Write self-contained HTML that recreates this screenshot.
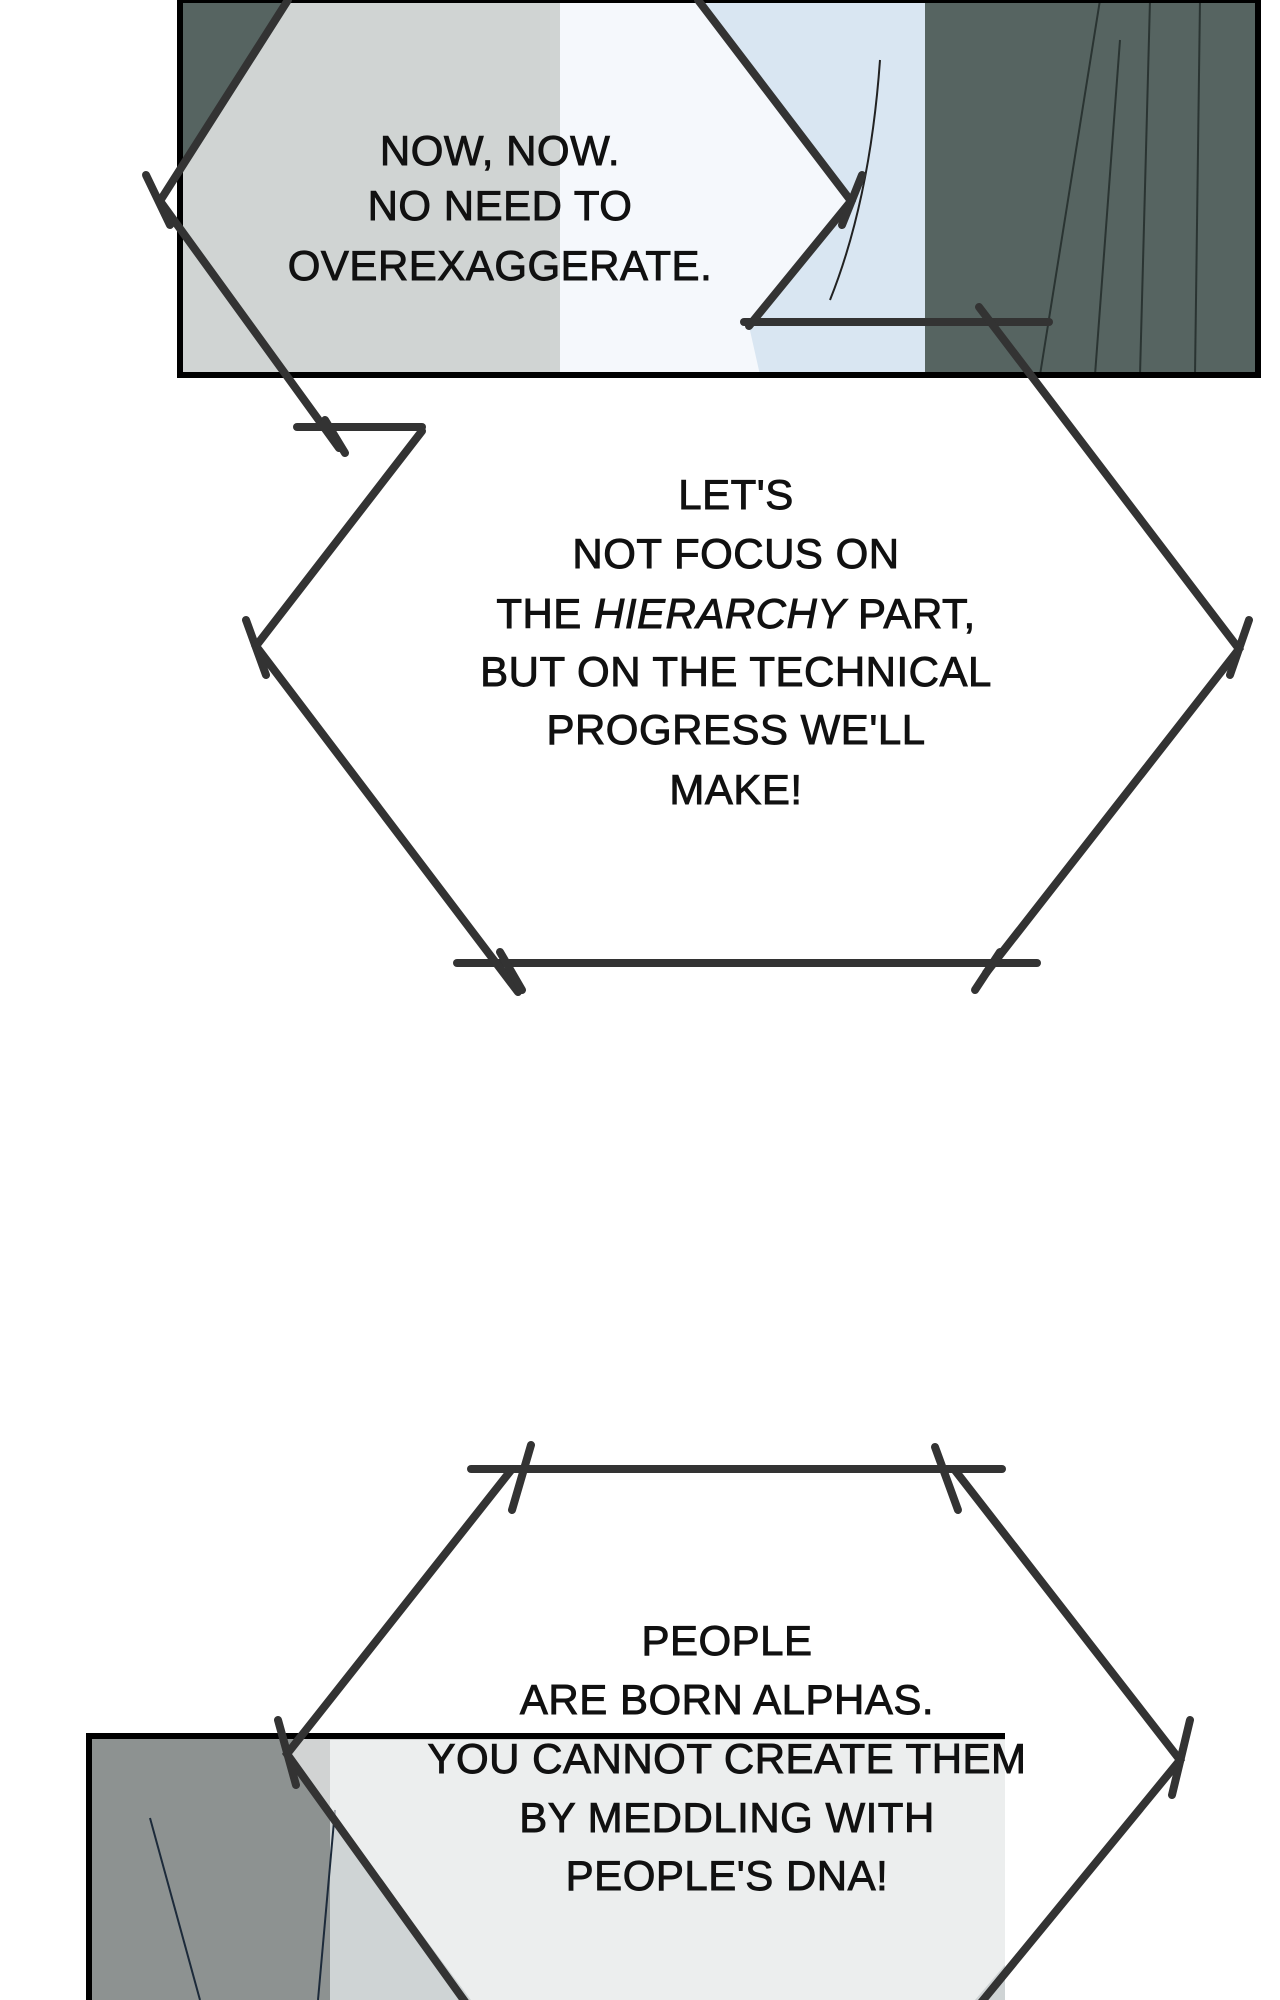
<!DOCTYPE html>
<html><head><meta charset="utf-8"><style>
html,body{margin:0;padding:0;background:#fff;width:1280px;height:2000px;overflow:hidden}
svg{display:block}
text{font-family:"Liberation Sans",sans-serif;font-size:42px;fill:#111;stroke:#111;stroke-width:0.9px;text-anchor:middle;letter-spacing:0.5px}
</style></head><body>
<svg width="1280" height="2000" viewBox="0 0 1280 2000" xmlns="http://www.w3.org/2000/svg">
<defs>
<clipPath id="c1"><rect x="180" y="0" width="1078" height="375"/></clipPath>
<clipPath id="c2"><rect x="87" y="1734" width="918" height="266"/></clipPath>
</defs>
<!-- top panel -->
<rect x="180" y="0" width="1078" height="375" fill="#566461"/>
<rect x="560" y="0" width="365" height="375" fill="#d9e6f2"/>
<g clip-path="url(#c1)" stroke="#2a3432" stroke-width="2" fill="none">
<path d="M1100 0 L1040 375"/><path d="M1120 40 L1095 375"/><path d="M1150 0 L1140 375"/><path d="M1200 0 L1195 375"/>
<path d="M880 60 Q870 200 830 300" stroke="#222"/>
</g>
<polygon points="160,201 288,0 698,0 851,201 749,326 760,375 180,375 180,230" fill="#fff" opacity="0.72" clip-path="url(#c1)"/>
<rect x="180" y="0" width="1078" height="375" fill="none" stroke="#000" stroke-width="6"/>
<!-- bottom panel -->
<rect x="87" y="1734" width="918" height="266" fill="#8d9291"/>
<rect x="330" y="1740" width="675" height="260" fill="#cfd4d5"/>
<g clip-path="url(#c2)" stroke="#1c2a3a" stroke-width="2" fill="none">
<path d="M150 1818 L200 2000"/><path d="M335 1810 L318 2000"/>
</g>
<polygon points="287,1754 512,1469 954,1469 1180,1760 975,2000 471,2000" fill="#fff" opacity="0.6" clip-path="url(#c2)"/>
<path d="M89 2000 L89 1736 L1005 1736" fill="none" stroke="#000" stroke-width="6"/>
<!-- hexagon lines -->
<g stroke="#333" stroke-width="8" stroke-linecap="round" fill="none">
<path d="M288 0 L160 201 L339 448"/>
<path d="M698 0 L851 201 L749 326"/>
<path d="M744 322 L1049 322"/>
<path d="M146 175 L170 225"/><path d="M862 175 L842 225"/>
<path d="M979 307 L1239 649 L986 973"/>
<path d="M1037 963 L457 963"/>
<path d="M518 992 L256 646 L422 431"/>
<path d="M297 427 L422 427"/>
<path d="M325 420 L345 453"/>
<path d="M1249 620 L1230 675"/><path d="M246 620 L266 675"/>
<path d="M1000 952 L975 990"/><path d="M500 952 L522 990"/>
<path d="M471 1469 L1002 1469"/>
<path d="M531 1445 L512 1510"/><path d="M935 1447 L958 1510"/>
<path d="M512 1469 L287 1754 L471 2010"/>
<path d="M954 1469 L1180 1760 L975 2010"/>
<path d="M278 1720 L296 1785"/><path d="M1190 1720 L1172 1795"/>
</g>
<!-- texts -->
<text x="500" y="165">NOW, NOW.</text>
<text x="500" y="220">NO NEED TO</text>
<text x="500" y="280">OVEREXAGGERATE.</text>
<text x="736" y="509">LET'S</text>
<text x="736" y="568">NOT FOCUS ON</text>
<text x="736" y="628">THE <tspan font-style="italic">HIERARCHY</tspan> PART,</text>
<text x="736" y="686">BUT ON THE TECHNICAL</text>
<text x="736" y="744">PROGRESS WE'LL</text>
<text x="736" y="804">MAKE!</text>
<text x="727" y="1655">PEOPLE</text>
<text x="727" y="1714">ARE BORN ALPHAS.</text>
<text x="727" y="1773">YOU CANNOT CREATE THEM</text>
<text x="727" y="1832">BY MEDDLING WITH</text>
<text x="727" y="1890">PEOPLE'S DNA!</text>
</svg>
</body></html>
